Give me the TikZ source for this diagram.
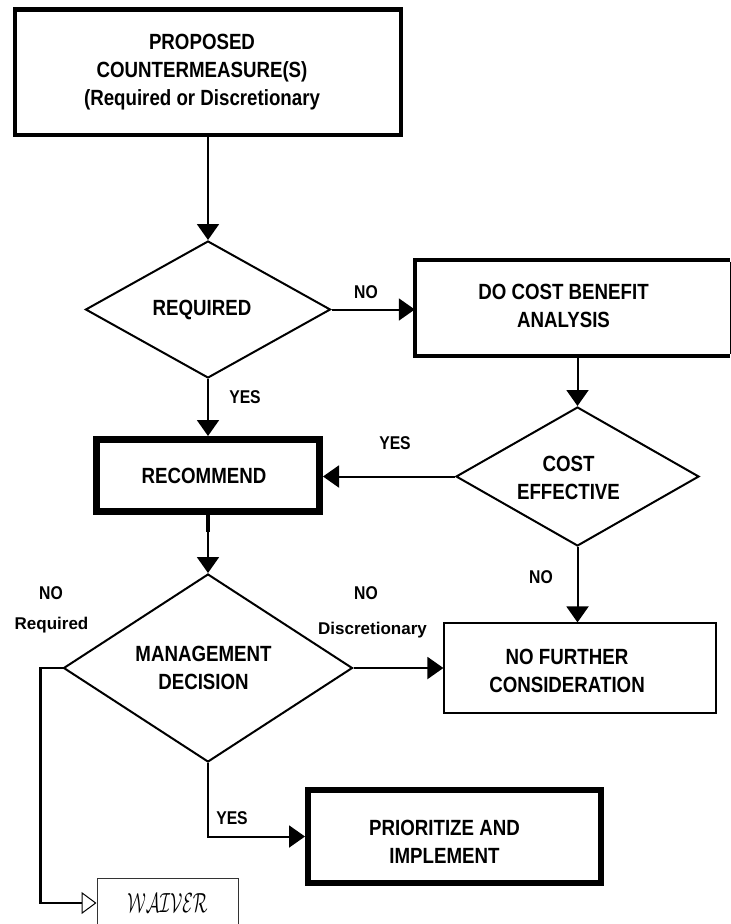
\documentclass[tikz,border=0pt]{standalone}
\usepackage{fontspec}
\setmainfont{Liberation Sans}
\newfontfamily\condfont{Liberation Sans}[FakeStretch=0.85]
\usetikzlibrary{shapes.geometric,arrows.meta,calc}
\newcommand{\txtl}[2]{\begin{tabular}{@{}c@{\hspace{#1}}}#2\end{tabular}}
\newcommand{\dn}[1]{\rule{0pt}{#1}}
\begin{document}
\begin{tikzpicture}[x=1pt,y=-1pt,
  box/.style={rectangle,draw,inner sep=0pt,
    font=\condfont\bfseries\fontsize{22}{28}\selectfont},
  dia/.style={diamond,aspect=1.75,draw,line width=2pt,inner sep=0pt,
    font=\condfont\bfseries\fontsize{22}{28}\selectfont},
  conn/.style={line width=2pt,-{Triangle[length=16pt,width=22pt]}},
  lab/.style={font=\condfont\bfseries\fontsize{18.5}{22}\selectfont,inner sep=0pt},
  sublab/.style={font=\bfseries\fontsize{17}{20}\selectfont,inner sep=0pt,anchor=base}]
\clip (0,0) rectangle (731,924);
\fill[white] (0,0) rectangle (731,924);

% nodes
\node[box,line width=4.5pt,minimum width=386pt,minimum height=125.5pt] (top) at (208,72)
  {\txtl{12pt}{PROPOSED\\COUNTERMEASURE(S)\\(Required or Discretionary}};
\node[dia,minimum width=245pt,minimum height=137pt] (req) at (208,309.5) {\txtl{12pt}{REQUIRED}};
\node[box,draw=none,minimum width=315pt,minimum height=96pt] (dcb) at (572.5,308)
  {\txtl{18pt}{DO COST BENEFIT\\ANALYSIS}};
\node[box,line width=7pt,minimum width=223pt,minimum height=72pt] (rec) at (208,475.5) {\txtl{8pt}{\dn{23.6pt}RECOMMEND}};
\node[dia,minimum width=243pt,minimum height=139pt] (ce) at (577.5,476.5) {\txtl{18pt}{\dn{25.6pt}COST\\EFFECTIVE}};
\node[dia,minimum width=289pt,minimum height=188pt] (md) at (208,668) {\txtl{9pt}{\dn{23.6pt}MANAGEMENT\\DECISION}};
\node[box,line width=1.2pt,minimum width=272pt,minimum height=90pt] (nfc) at (580,668)
  {\txtl{26pt}{\dn{29.6pt}NO FURTHER\\CONSIDERATION}};
\node[box,line width=6pt,minimum width=293pt,minimum height=93pt] (pri) at (454.5,836.5)
  {\txtl{20pt}{\dn{33.6pt}PRIORITIZE AND\\IMPLEMENT}};
\node[rectangle,draw=black!80,line width=1pt,inner sep=0pt,minimum width=141pt,minimum height=50pt] (waiver) at (167.5,903)
  {\scalebox{1}[1.6]{\fontsize{17}{20}\selectfont$\mathcal{WAIVER}$}};

% DO COST BENEFIT box border: thick left/top/bottom, thin right
\draw[line width=4.5pt,line join=miter] (dcb.north east) -- (dcb.north west) -- (dcb.south west) -- (dcb.south east);
\draw[line width=1pt] ([yshift=-2pt]dcb.north east) -- ([yshift=2pt]dcb.south east);

% connectors
\draw[conn] (top.south) -- (req.north);
\draw[conn] (req.east) -- (req.east -| dcb.west);
\draw[conn] (req.south) -- (rec.north);
\draw[conn] (ce.north |- dcb.south) -- (ce.north);
\draw[conn] (ce.west) -- (ce.west -| rec.east);
\draw[conn] (ce.south) -- (ce.south |- nfc.north);
\draw[conn] (rec.south) -- (md.north);
\draw[line width=4pt] (rec.south) -- ++(0,17);
\draw[conn] (md.east) -- (md.east -| nfc.west);
\draw[conn] (md.south) |- (pri.west);
\draw[line width=2.5pt,-{Triangle[length=15pt,width=22pt,fill=white,line width=1pt]}]
  (md.west) -- ++(-22,0) |- (waiver.west);

% labels
\node[lab] (l1) at (366,292) {NO};
\node[lab] (l2) at (245,397) {YES};
\node[lab] (l3) at (395,443) {YES};
\node[lab] (l4) at (541,577) {NO};
\node[lab] (l5) at (51,593) {NO};
\node[sublab] (l6) at (51.5,629) {Required};
\node[lab] (l7) at (366,593) {NO};
\node[sublab] (l8) at (372.5,634) {Discretionary};
\node[lab] (l9) at (232,818) {YES};
\end{tikzpicture}
\end{document}
